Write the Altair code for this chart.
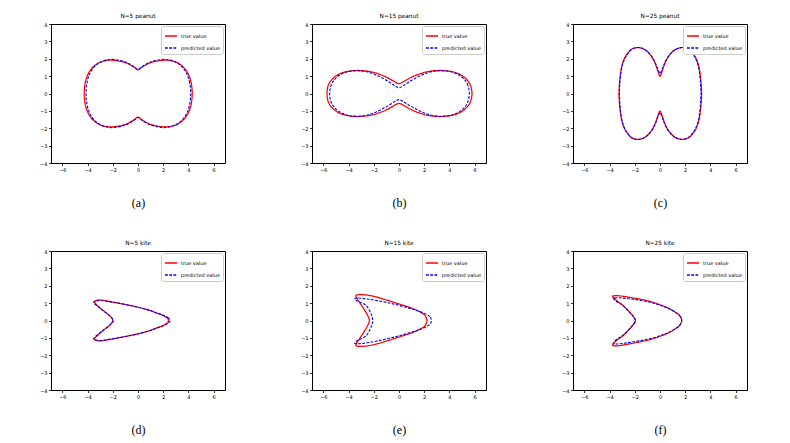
import altair as alt
import pandas as pd

TRUE_LABEL = "true value"
PRED_LABEL = "predicted value"

# ---------- (a) N=5 peanut ----------
A_TRUE_X = [4.30, 4.22, 4.00, 3.62, 3.10, 2.50, 1.90, 1.10, 0.60, 0.28, 0.00, -0.28, -0.60, -1.10, -1.90, -2.50, -3.08, -3.60, -3.97, -4.19, -4.27,
            -4.19, -3.97, -3.60, -3.08, -2.50, -1.90, -1.10, -0.60, -0.28, 0.00, 0.28, 0.60, 1.10, 1.90, 2.50, 3.10, 3.62, 4.00, 4.22]
A_TRUE_Y = [0.00, 0.60, 1.10, 1.50, 1.78, 1.90, 1.91, 1.80, 1.64, 1.50, 1.36, 1.50, 1.64, 1.80, 1.91, 1.90, 1.78, 1.50, 1.10, 0.60, 0.00,
            -0.60, -1.10, -1.50, -1.78, -1.90, -1.91, -1.80, -1.64, -1.50, -1.36, -1.50, -1.64, -1.80, -1.91, -1.90, -1.78, -1.50, -1.10, -0.60]
A_PRED_X = [4.18, 4.10, 3.88, 3.50, 3.00, 2.40, 1.80, 1.05, 0.58, 0.27, 0.00, -0.27, -0.58, -1.05, -1.80, -2.40, -2.98, -3.47, -3.84, -4.05, -4.12,
            -4.05, -3.84, -3.47, -2.98, -2.40, -1.80, -1.05, -0.58, -0.27, 0.00, 0.27, 0.58, 1.05, 1.80, 2.40, 3.00, 3.50, 3.88, 4.10]
A_PRED_Y = [0.00, 0.60, 1.12, 1.53, 1.80, 1.94, 1.95, 1.83, 1.66, 1.52, 1.38, 1.52, 1.66, 1.83, 1.95, 1.94, 1.80, 1.53, 1.12, 0.60, 0.00,
            -0.60, -1.12, -1.53, -1.80, -1.94, -1.95, -1.83, -1.66, -1.52, -1.38, -1.52, -1.66, -1.83, -1.95, -1.94, -1.80, -1.53, -1.12, -0.60]

# ---------- (b) N=15 peanut ----------
B_TRUE_X = [5.79, 5.68, 5.40, 4.95, 4.40, 3.70, 3.00, 2.30, 1.60, 1.00, 0.50, 0.00, -0.50, -1.00, -1.60, -2.30, -3.00, -3.70, -4.38, -4.92, -5.35, -5.62, -5.71,
            -5.62, -5.35, -4.92, -4.38, -3.70, -3.00, -2.30, -1.60, -1.00, -0.50, 0.00, 0.50, 1.00, 1.60, 2.30, 3.00, 3.70, 4.40, 4.95, 5.40, 5.68]
B_TRUE_Y = [0.00, 0.45, 0.78, 1.05, 1.22, 1.31, 1.32, 1.26, 1.12, 0.94, 0.74, 0.57, 0.74, 0.94, 1.12, 1.26, 1.32, 1.31, 1.22, 1.05, 0.78, 0.45, 0.00,
            -0.45, -0.78, -1.05, -1.22, -1.31, -1.32, -1.26, -1.12, -0.94, -0.74, -0.57, -0.74, -0.94, -1.12, -1.26, -1.32, -1.31, -1.22, -1.05, -0.78, -0.45]
B_PRED_X = [5.58, 5.47, 5.20, 4.76, 4.20, 3.60, 3.00, 2.40, 1.80, 1.20, 0.70, 0.30, 0.00, -0.30, -0.70, -1.20, -1.80, -2.40, -3.00, -3.60, -4.15, -4.70, -5.12, -5.40, -5.50,
            -5.40, -5.12, -4.70, -4.15, -3.60, -3.00, -2.40, -1.80, -1.20, -0.70, -0.30, 0.00, 0.30, 0.70, 1.20, 1.80, 2.40, 3.00, 3.60, 4.20, 4.76, 5.20, 5.47]
B_PRED_Y = [0.00, 0.45, 0.80, 1.06, 1.24, 1.30, 1.30, 1.22, 1.06, 0.84, 0.62, 0.43, 0.33, 0.43, 0.62, 0.84, 1.06, 1.22, 1.30, 1.30, 1.24, 1.06, 0.80, 0.45, 0.00,
            -0.45, -0.80, -1.06, -1.24, -1.30, -1.30, -1.22, -1.06, -0.84, -0.63, -0.45, -0.35, -0.45, -0.63, -0.84, -1.06, -1.22, -1.30, -1.30, -1.24, -1.06, -0.80, -0.45]

# ---------- (c) N=25 peanut ----------
C_TRUE_X = [3.30, 3.28, 3.22, 3.10, 2.90, 2.66, 2.25, 1.73, 1.20, 0.80, 0.50, 0.30, 0.15, 0.00, -0.15, -0.30, -0.50, -0.80, -1.20, -1.73, -2.25, -2.62, -2.86, -3.05, -3.17, -3.23, -3.25,
            -3.23, -3.17, -3.05, -2.86, -2.62, -2.25, -1.73, -1.20, -0.80, -0.50, -0.30, -0.15, 0.00, 0.15, 0.30, 0.50, 0.80, 1.20, 1.73, 2.25, 2.66, 2.90, 3.10, 3.22, 3.28]
C_TRUE_Y = [0.00, 0.40, 0.90, 1.50, 1.95, 2.25, 2.55, 2.64, 2.52, 2.25, 1.92, 1.57, 1.24, 0.99, 1.24, 1.57, 1.92, 2.25, 2.52, 2.64, 2.55, 2.25, 1.95, 1.50, 0.90, 0.40, 0.00,
            -0.40, -0.90, -1.50, -1.95, -2.25, -2.55, -2.64, -2.52, -2.25, -1.92, -1.57, -1.24, -1.01, -1.24, -1.57, -1.92, -2.25, -2.52, -2.64, -2.55, -2.25, -1.95, -1.50, -0.90, -0.40]
C_PRED_X = [3.25, 3.23, 3.18, 3.06, 2.86, 2.62, 2.22, 1.70, 1.18, 0.78, 0.48, 0.28, 0.13, 0.00, -0.13, -0.28, -0.48, -0.78, -1.18, -1.70, -2.22, -2.60, -2.84, -3.03, -3.15, -3.20, -3.22,
            -3.20, -3.15, -3.03, -2.84, -2.60, -2.22, -1.70, -1.18, -0.78, -0.48, -0.28, -0.13, 0.00, 0.13, 0.28, 0.48, 0.78, 1.18, 1.70, 2.22, 2.62, 2.86, 3.06, 3.18, 3.23]
C_PRED_Y = [0.00, 0.40, 0.90, 1.50, 1.95, 2.25, 2.55, 2.65, 2.52, 2.25, 1.92, 1.60, 1.33, 1.15, 1.33, 1.60, 1.92, 2.25, 2.52, 2.65, 2.55, 2.25, 1.95, 1.50, 0.90, 0.40, 0.00,
            -0.40, -0.90, -1.50, -1.95, -2.25, -2.55, -2.65, -2.52, -2.25, -1.92, -1.58, -1.29, -1.10, -1.29, -1.58, -1.92, -2.25, -2.52, -2.65, -2.55, -2.25, -1.95, -1.50, -0.90, -0.40]

# ---------- (d) N=5 kite ----------
D_TRUE_X = [2.42, 2.32, 1.98, 1.40, 0.93, 0.20, -0.40, -1.20, -2.00, -2.60, -3.00, -3.30, -3.45, -3.30, -2.75, -2.25, -2.03, -2.00,
            -2.03, -2.25, -2.75, -3.30, -3.45, -3.30, -3.00, -2.60, -2.00, -1.20, -0.40, 0.20, 0.93, 1.40, 1.98, 2.32]
D_TRUE_Y = [0.00, 0.14, 0.29, 0.45, 0.58, 0.73, 0.83, 0.95, 1.06, 1.14, 1.18, 1.15, 1.07, 0.92, 0.57, 0.28, 0.08, 0.00,
            -0.08, -0.28, -0.57, -0.92, -1.07, -1.15, -1.18, -1.14, -1.06, -0.95, -0.83, -0.73, -0.58, -0.45, -0.29, -0.14]
D_PRED_X = [2.55, 2.42, 2.05, 1.45, 0.95, 0.20, -0.40, -1.20, -2.00, -2.60, -3.00, -3.35, -3.52, -3.35, -2.78, -2.25, -2.00, -1.97,
            -2.00, -2.25, -2.78, -3.35, -3.52, -3.35, -3.00, -2.60, -2.00, -1.20, -0.40, 0.20, 0.95, 1.45, 2.05, 2.42]
D_PRED_Y = [0.00, 0.15, 0.29, 0.45, 0.58, 0.73, 0.83, 0.95, 1.05, 1.12, 1.15, 1.12, 1.05, 0.90, 0.57, 0.28, 0.08, 0.00,
            -0.08, -0.28, -0.57, -0.90, -1.05, -1.12, -1.15, -1.12, -1.05, -0.95, -0.83, -0.73, -0.58, -0.45, -0.29, -0.15]

# ---------- (e) N=15 kite ----------
E_TRUE_X = [2.22, 2.15, 1.96, 1.50, 1.05, 0.40, -0.26, -1.00, -1.82, -2.50, -3.00, -3.30, -3.42, -3.25, -2.87, -2.55, -2.38, -2.35,
            -2.38, -2.55, -2.87, -3.25, -3.42, -3.30, -3.00, -2.50, -1.82, -1.00, -0.26, 0.40, 1.05, 1.50, 1.96, 2.15]
E_TRUE_Y = [0.00, 0.18, 0.37, 0.55, 0.70, 0.86, 1.01, 1.18, 1.36, 1.46, 1.49, 1.48, 1.42, 1.18, 0.76, 0.38, 0.12, 0.00,
            -0.12, -0.38, -0.76, -1.18, -1.42, -1.48, -1.49, -1.46, -1.36, -1.18, -1.01, -0.86, -0.70, -0.55, -0.37, -0.18]
E_PRED_X = [2.56, 2.45, 1.96, 1.50, 1.05, 0.40, -0.26, -1.00, -1.82, -2.50, -3.00, -3.35, -3.52, -3.25, -2.60, -2.21, -2.10, -2.08,
            -2.10, -2.21, -2.60, -3.25, -3.52, -3.35, -3.00, -2.50, -1.82, -1.00, -0.26, 0.40, 1.05, 1.50, 1.96, 2.45]
E_PRED_Y = [0.00, 0.22, 0.43, 0.56, 0.66, 0.79, 0.92, 1.04, 1.16, 1.24, 1.28, 1.29, 1.24, 1.10, 0.86, 0.37, 0.12, 0.00,
            -0.12, -0.37, -0.88, -1.14, -1.30, -1.34, -1.33, -1.28, -1.19, -1.06, -0.93, -0.80, -0.66, -0.56, -0.43, -0.22]

# ---------- (f) N=25 kite ----------
F_TRUE_X = [1.72, 1.62, 1.38, 0.73, 0.10, -0.57, -1.40, -2.30, -3.00, -3.40, -3.68, -3.75, -3.45, -2.92, -2.27, -2.02, -1.96,
            -2.02, -2.27, -2.92, -3.45, -3.75, -3.68, -3.40, -3.00, -2.30, -1.40, -0.57, 0.10, 0.73, 1.38, 1.62]
F_TRUE_Y = [0.00, 0.22, 0.40, 0.69, 0.88, 1.05, 1.20, 1.32, 1.40, 1.43, 1.42, 1.38, 1.15, 0.86, 0.37, 0.12, 0.00,
            -0.12, -0.37, -0.86, -1.15, -1.40, -1.45, -1.46, -1.42, -1.33, -1.20, -1.05, -0.88, -0.69, -0.40, -0.22]
F_PRED_X = [1.72, 1.62, 1.38, 0.73, 0.10, -0.57, -1.40, -2.30, -3.00, -3.40, -3.65, -3.70, -3.42, -2.92, -2.27, -2.00, -1.94,
            -2.00, -2.27, -2.92, -3.42, -3.70, -3.65, -3.40, -3.00, -2.30, -1.40, -0.57, 0.10, 0.73, 1.38, 1.62]
F_PRED_Y = [0.00, 0.21, 0.39, 0.67, 0.85, 1.01, 1.14, 1.24, 1.29, 1.31, 1.30, 1.27, 1.08, 0.84, 0.36, 0.12, 0.00,
            -0.12, -0.36, -0.84, -1.08, -1.30, -1.34, -1.35, -1.32, -1.25, -1.14, -1.01, -0.85, -0.67, -0.39, -0.21]

TITLES = ["N=5 peanut", "N=15 peanut", "N=25 peanut", "N=5 kite", "N=15 kite", "N=25 kite"]
CAPTIONS = ["(a)", "(b)", "(c)", "(d)", "(e)", "(f)"]
X_TICKS = [-6, -4, -2, 0, 2, 4, 6]
Y_TICKS = [-4, -3, -2, -1, 0, 1, 2, 3, 4]

PANELS = [
    (A_TRUE_X, A_TRUE_Y, A_PRED_X, A_PRED_Y),
    (B_TRUE_X, B_TRUE_Y, B_PRED_X, B_PRED_Y),
    (C_TRUE_X, C_TRUE_Y, C_PRED_X, C_PRED_Y),
    (D_TRUE_X, D_TRUE_Y, D_PRED_X, D_PRED_Y),
    (E_TRUE_X, E_TRUE_Y, E_PRED_X, E_PRED_Y),
    (F_TRUE_X, F_TRUE_Y, F_PRED_X, F_PRED_Y),
]

PW, PH = 174, 139


def panel(k):
    tx, ty, px, py = PANELS[k]
    rows = []
    for i, (x, y) in enumerate(zip(tx, ty)):
        rows.append({"x": x, "y": y, "s": TRUE_LABEL, "i": i})
    for i, (x, y) in enumerate(zip(px, py)):
        rows.append({"x": x, "y": y, "s": PRED_LABEL, "i": i})
    df = pd.DataFrame(rows)
    enc = dict(
        x=alt.X("x:Q", scale=alt.Scale(domain=[-6.9, 6.9], nice=False, zero=False),
                axis=alt.Axis(values=X_TICKS, title=CAPTIONS[k])),
        y=alt.Y("y:Q", scale=alt.Scale(domain=[-4, 4], nice=False, zero=False),
                axis=alt.Axis(values=Y_TICKS, title=None)),
        color=alt.Color("s:N", scale=alt.Scale(domain=[TRUE_LABEL, PRED_LABEL], range=["#ff0000", "#0000ff"]),
                        legend=alt.Legend(title=None)),
        strokeDash=alt.StrokeDash("s:N", scale=alt.Scale(domain=[TRUE_LABEL, PRED_LABEL], range=[[1, 0], [2.8, 1.4]]),
                                  legend=alt.Legend(title=None)),
        order=alt.Order("i:Q"),
    )
    base = alt.Chart(df)
    red = base.transform_filter(alt.datum.s == TRUE_LABEL).mark_line(
        interpolate="cardinal-closed", strokeWidth=1.25).encode(**enc)
    blue = base.transform_filter(alt.datum.s == PRED_LABEL).mark_line(
        interpolate="cardinal-closed", strokeWidth=1.1).encode(**enc)
    return alt.layer(red, blue).properties(width=PW, height=PH, title=TITLES[k])


row1 = alt.hconcat(panel(0), panel(1), panel(2), spacing=74).resolve_scale(color="independent", strokeDash="independent")
row2 = alt.hconcat(panel(3), panel(4), panel(5), spacing=74).resolve_scale(color="independent", strokeDash="independent")

chart = alt.vconcat(row1, row2, spacing=30).resolve_scale(
    color="independent", strokeDash="independent"
).properties(
    padding={"left": 31, "top": 4, "right": 5, "bottom": 5},
    background="white",
).configure_view(
    stroke="black", strokeWidth=1
).configure_axis(
    domainColor="black", domainWidth=1, tickColor="black", tickWidth=0.8, tickSize=2.5,
    labelColor="black", labelFont="DejaVu Sans", labelFontSize=5, labelPadding=1.5,
    grid=False,
    titleFont="Liberation Serif", titleFontSize=12, titleFontWeight="normal", titleColor="black", titlePadding=25,
).configure_title(
    font="DejaVu Sans", fontSize=5.8, fontWeight="normal", color="black", offset=3,
).configure_legend(
    orient="top-right", offset=2, padding=3, fillColor="white", strokeColor="#cccccc", cornerRadius=2,
    labelFont="DejaVu Sans", labelFontSize=5, labelColor="black", labelOffset=3,
    symbolType="stroke", symbolSize=144, symbolStrokeWidth=1.5, rowPadding=2,
)

chart.save("out.html", embed_options={"renderer": "svg", "actions": False})
